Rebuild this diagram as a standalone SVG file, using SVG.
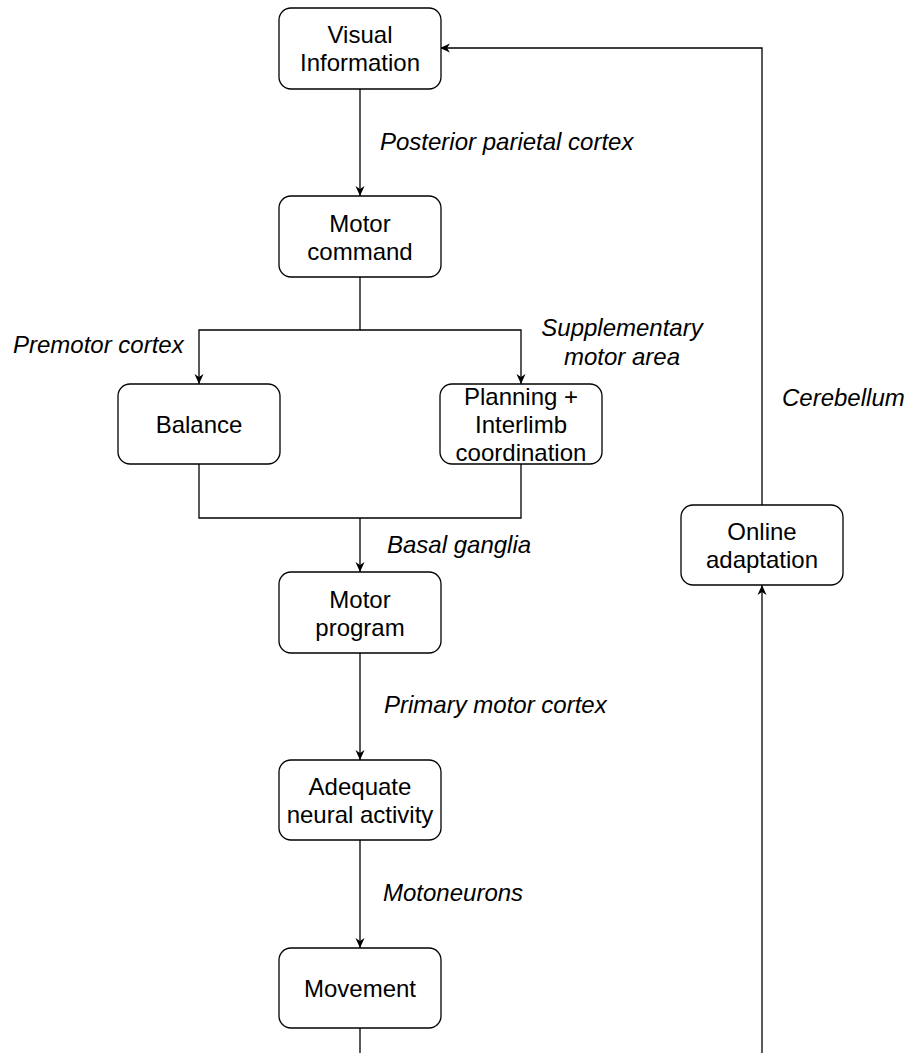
<svg xmlns="http://www.w3.org/2000/svg" width="910" height="1053" viewBox="0 0 910 1053">
<style>
.box{fill:#fff;stroke:#000;stroke-width:1.3}
.t{font-family:"Liberation Sans",Arial,Helvetica,sans-serif;font-size:24px;fill:#000;text-anchor:middle}
.lbl{font-family:"Liberation Sans",Arial,Helvetica,sans-serif;font-size:24px;font-style:italic;fill:#000}
.c{fill:none;stroke:#000;stroke-width:1.3}
</style>
<defs>
<marker id="arr" viewBox="0 0 10 10" refX="10" refY="5" markerWidth="10" markerHeight="10" markerUnits="userSpaceOnUse" orient="auto">
<path d="M0,0.5 L10,5 L0,9.5 L3,5 z" fill="#000"/>
</marker>
</defs>
<rect width="910" height="1053" fill="#fff"/>
<g id="connectors">
<path class="c" d="M360,89 V196" marker-end="url(#arr)"/>
<path class="c" d="M360,277 V330 H199 V384" marker-end="url(#arr)"/>
<path class="c" d="M360,330 H521 V384" marker-end="url(#arr)"/>
<path class="c" d="M199,464 V518 H521 V464"/>
<path class="c" d="M360,518 V572" marker-end="url(#arr)"/>
<path class="c" d="M360,653 V760" marker-end="url(#arr)"/>
<path class="c" d="M360,840 V948" marker-end="url(#arr)"/>
<path class="c" d="M360,1028 V1060"/>
<path class="c" d="M762,1060 V585" marker-end="url(#arr)"/>
<path class="c" d="M762,505 V48 H440" marker-end="url(#arr)"/>
</g>
<g id="labels">
<text class="lbl" x="380" y="150">Posterior parietal cortex</text>
<text class="lbl" x="13" y="353">Premotor cortex</text>
<text class="lbl" x="622" y="336" text-anchor="middle">Supplementary</text>
<text class="lbl" x="622" y="365" text-anchor="middle">motor area</text>
<text class="lbl" x="782" y="406">Cerebellum</text>
<text class="lbl" x="387" y="553">Basal ganglia</text>
<text class="lbl" x="384" y="713">Primary motor cortex</text>
<text class="lbl" x="383" y="901">Motoneurons</text>
</g>
<g id="visual-information">
<rect class="box" x="279" y="8" width="162" height="81" rx="12"/>
<text class="t" x="360" y="43">Visual</text>
<text class="t" x="360" y="71">Information</text>
</g>
<g id="motor-command">
<rect class="box" x="279" y="196" width="162" height="81" rx="12"/>
<text class="t" x="360" y="232">Motor</text>
<text class="t" x="360" y="260">command</text>
</g>
<g id="balance">
<rect class="box" x="118" y="384" width="162" height="80" rx="12"/>
<text class="t" x="199" y="433">Balance</text>
</g>
<g id="planning">
<rect class="box" x="440" y="384" width="162" height="80" rx="12"/>
<text class="t" x="521" y="405">Planning +</text>
<text class="t" x="521" y="433">Interlimb</text>
<text class="t" x="521" y="461">coordination</text>
</g>
<g id="motor-program">
<rect class="box" x="279" y="572" width="162" height="81" rx="12"/>
<text class="t" x="360" y="608">Motor</text>
<text class="t" x="360" y="636">program</text>
</g>
<g id="adequate-neural-activity">
<rect class="box" x="279" y="760" width="162" height="80" rx="12"/>
<text class="t" x="360" y="795">Adequate</text>
<text class="t" x="360" y="823">neural activity</text>
</g>
<g id="movement">
<rect class="box" x="279" y="948" width="162" height="80" rx="12"/>
<text class="t" x="360" y="997">Movement</text>
</g>
<g id="online-adaptation">
<rect class="box" x="681" y="505" width="162" height="80" rx="12"/>
<text class="t" x="762" y="540">Online</text>
<text class="t" x="762" y="568">adaptation</text>
</g>
</svg>
